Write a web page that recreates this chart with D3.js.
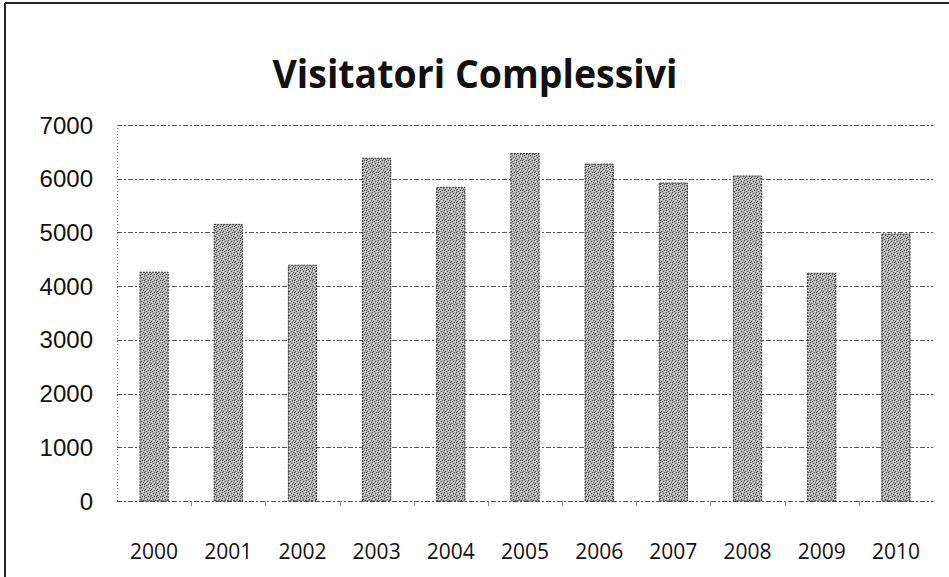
<!DOCTYPE html>
<html>
<head>
<meta charset="utf-8">
<script src="https://cdn.jsdelivr.net/npm/d3@7"></script>
<style>
  body { margin: 0; background: #fff; }
  svg { display: block; }
</style>
</head>
<body>
<div id="chart"></div>
<script>
// data
var years = ["2000", "2001", "2002", "2003", "2004", "2005", "2006", "2007", "2008", "2009", "2010"];
var visitors = [4260, 5150, 4390, 6380, 5840, 6470, 6270, 5920, 6050, 4240, 4970];
var yTicks = [0, 1000, 2000, 3000, 4000, 5000, 6000, 7000];

var width = 949, height = 577;
var margin = { top: 125, right: 16, bottom: 76, left: 117 };

var svg = d3.select("#chart")
  .append("svg")
  .attr("width", width)
  .attr("height", height);

// stipple texture for bars
var defs = svg.append("defs");
var pat = defs.append("pattern")
  .attr("id", "stipple")
  .attr("patternUnits", "userSpaceOnUse")
  .attr("width", 6)
  .attr("height", 6);
pat.append("rect").attr("width", 6).attr("height", 6).attr("fill", "#b4b4b4");
[[0, 0], [3, 1], [1, 3], [4, 4], [5, 2], [2, 5], [0, 4]].forEach(function (p) {
  pat.append("rect").attr("x", p[0]).attr("y", p[1]).attr("width", 1).attr("height", 1).attr("fill", "#4a4a4a");
});
[[1, 1], [4, 2], [2, 4], [5, 5]].forEach(function (p) {
  pat.append("rect").attr("x", p[0]).attr("y", p[1]).attr("width", 1).attr("height", 1).attr("fill", "#e6e6e6");
});

// frame (only top and left edges show in the scan)
svg.append("line").attr("x1", 5).attr("x2", width).attr("y1", 3).attr("y2", 3)
  .attr("stroke", "#222").attr("stroke-width", 2);
svg.append("line").attr("x1", 5).attr("x2", 5).attr("y1", 3).attr("y2", height)
  .attr("stroke", "#222").attr("stroke-width", 2);

var x = d3.scaleBand()
  .domain(years)
  .range([margin.left, width - margin.right])
  .paddingInner(0.62)
  .paddingOuter(0.31);

var y = d3.scaleLinear()
  .domain([0, 7000])
  .range([height - margin.bottom, margin.top]);

// gridlines
svg.append("g")
  .selectAll("line")
  .data(yTicks)
  .join("line")
  .attr("x1", margin.left)
  .attr("x2", width - margin.right)
  .attr("y1", function (d) { return Math.round(y(d)) + 0.5; })
  .attr("y2", function (d) { return Math.round(y(d)) + 0.5; })
  .attr("stroke", "#555")
  .attr("stroke-width", 1)
  .attr("stroke-dasharray", "5,2,2,2");

// vertical axis line (dotted)
svg.append("line")
  .attr("x1", margin.left + 0.5).attr("x2", margin.left + 0.5)
  .attr("y1", y(7000)).attr("y2", y(0))
  .attr("stroke", "#777")
  .attr("stroke-dasharray", "1,2");

// small category ticks under the baseline
svg.append("g")
  .selectAll("line")
  .data(years.slice(1))
  .join("line")
  .attr("x1", function (d) { return Math.round(x(d) - x.step() * x.paddingInner() / 2) + 0.5; })
  .attr("x2", function (d) { return Math.round(x(d) - x.step() * x.paddingInner() / 2) + 0.5; })
  .attr("y1", y(0)).attr("y2", y(0) + 5)
  .attr("stroke", "#888");

// y labels
svg.append("g")
  .selectAll("text")
  .data(yTicks)
  .join("text")
  .attr("x", 93)
  .attr("y", function (d) { return y(d); })
  .attr("dy", "0.36em")
  .attr("text-anchor", "end")
  .attr("font-family", "Liberation Sans, Arial, sans-serif")
  .attr("font-size", 24)
  .attr("fill", "#111")
  .text(function (d) { return d; });

// bars
svg.append("g")
  .selectAll("rect")
  .data(visitors)
  .join("rect")
  .attr("x", function (d, i) { return x(years[i]); })
  .attr("width", x.bandwidth())
  .attr("y", function (d) { return y(d); })
  .attr("height", function (d) { return y(0) - y(d); })
  .attr("fill", "url(#stipple)")
  .attr("stroke", "#333")
  .attr("stroke-width", 1)
  .attr("stroke-dasharray", "2,1");

// x labels
svg.append("g")
  .selectAll("text")
  .data(years)
  .join("text")
  .attr("x", function (d) { return x(d) + x.bandwidth() / 2; })
  .attr("y", 559)
  .attr("text-anchor", "middle")
  .attr("font-family", "Open Sans, sans-serif")
  .attr("font-size", 21)
  .attr("fill", "#111")
  .text(function (d) { return d; });

// title
svg.append("text")
  .attr("x", 475)
  .attr("y", 88)
  .attr("text-anchor", "middle")
  .attr("font-family", "Open Sans, sans-serif")
  .attr("font-weight", "bold")
  .attr("font-size", 40)
  .attr("textLength", 405)
  .attr("lengthAdjust", "spacingAndGlyphs")
  .attr("fill", "#111")
  .text("Visitatori Complessivi");
</script>
</body>
</html>
